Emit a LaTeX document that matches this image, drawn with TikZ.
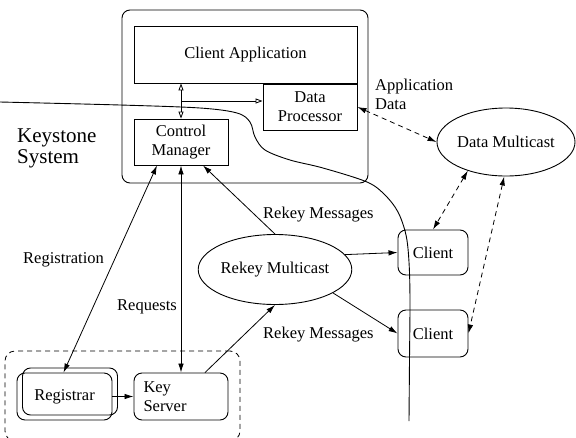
\documentclass[tikz,border=0pt]{standalone}
\usepackage{fontspec}
\setmainfont{Liberation Serif}
\usetikzlibrary{arrows.meta,shapes.geometric}
\begin{document}
\begin{tikzpicture}[x=1pt,y=-1pt,
  every node/.style={font=\rmfamily\fontsize{16.5}{19}\selectfont},
  plainbox/.style={draw,rectangle,line width=0.9pt,inner sep=0pt,align=center},
  roundbox/.style={draw,rectangle,rounded corners=8pt,line width=0.9pt,inner sep=0pt},
  oval/.style={draw,ellipse,line width=0.9pt,inner sep=0pt},
  link/.style={line width=0.8pt},
  tip/.style={-{Latex[length=9pt,width=5.5pt]}},
  tips/.style={{Latex[length=9pt,width=5.5pt]}-{Latex[length=9pt,width=5.5pt]}},
  opentip/.style={-{Triangle[open,length=7pt,width=5pt]}},
  opentips/.style={{Triangle[open,length=7pt,width=5pt]}-{Triangle[open,length=7pt,width=5pt]}},
  dashline/.style={dash pattern=on 5pt off 4pt},
  lbl/.style={inner sep=0pt,anchor=base west}]
\clip (0,0) rectangle (576,437);
\fill[white] (0,0) rectangle (576,437);

% client host
\node[roundbox,minimum width=246pt,minimum height=173pt] (host) at (245,96.5) {};
\node[plainbox,minimum width=223pt,minimum height=57pt] (app) at (245.5,54.5) {Client Application};
\node[plainbox,minimum width=94pt,minimum height=46pt] (dp) at (310,107) {Data\\Processor};
\node[plainbox,minimum width=94pt,minimum height=46pt] (cm) at (181,142) {Control\\Manager};

% multicast groups and clients
\node[oval,minimum width=136pt,minimum height=68pt] (dm) at (506,142) {Data Multicast};
\node[oval,minimum width=140pt,minimum height=70pt] (rm) at (275,269.5) {Rekey Multicast};
\node[roundbox,minimum width=70pt,minimum height=45pt] (c1) at (433,252.5) {Client};
\node[roundbox,minimum width=70pt,minimum height=47pt] (c2) at (433,333.5) {Client};

% key distribution side
\node[draw,dashline,rounded corners=10pt,line width=0.8pt,minimum width=235pt,minimum height=90pt] (kd) at (122.5,396) {};
\node[roundbox,minimum width=95pt,minimum height=47pt] (regb) at (70,391.5) {};
\node[roundbox,minimum width=95pt,minimum height=47pt] (reg) at (64.5,396.5) {Registrar};
\node[roundbox,minimum width=94pt,minimum height=47pt,align=left,text width=75pt] (ks) at (181,396.5) {Key\\Server};

% boundary of the Keystone system
\draw[line width=0.9pt] plot[smooth,tension=0.55] coordinates {
  (0,102) (120,105) (200,108) (237,113) (250,122) (255,137) (265,150)
  (290,160) (323,168) (367,182) (385,195) (398,212) (406,235) (409,262)
  (410,300) (409.5,360) (409,421)};

% labels (multi-line labels are placed by the baseline of their last line)
\node[lbl,font=\rmfamily\fontsize{21}{21}\selectfont,align=left] (ksys) at (17,163) {Keystone\\System};
\node[lbl,align=left] (appdata) at (375,109) {Application\\Data};
\node[lbl] (lreg) at (23,263) {Registration};
\node[lbl] (lreq) at (117,310) {Requests};
\node[lbl] (lrk1) at (263,218) {Rekey Messages};
\node[lbl] (lrk2) at (263,338) {Rekey Messages};

% internal host connections
\coordinate (br) at (181,101);
\draw[link,opentips] (cm.north) -- (cm.north |- app.south);
\draw[link,opentip] (br) -- (br -| dp.west);

% data path
\draw[link,tips,dashline] (dp.east) -- (dm.west);
\draw[link,tips,dashline] (dm.217) -- (c1.north);
\draw[link,tips,dashline] (dm.267) -- (c2.east);

% rekey path
\draw[link,tip] (rm.12) -- (c1.west);
\draw[link,tip] (rm.-22) -- (c2.west);
\draw[link,tip] (rm.north) -- ([xshift=22pt]cm.south);
\draw[link,tip] ([xshift=24pt]ks.north) -- (rm.south);

% registration and requests
\draw[link,tips] ([xshift=-24pt]cm.south) -- ([xshift=-1pt]reg.north);
\draw[link,tips] (cm.south) -- (ks.north);
\draw[link,tip] (reg.east) -- (ks.west);
\end{tikzpicture}
\end{document}
